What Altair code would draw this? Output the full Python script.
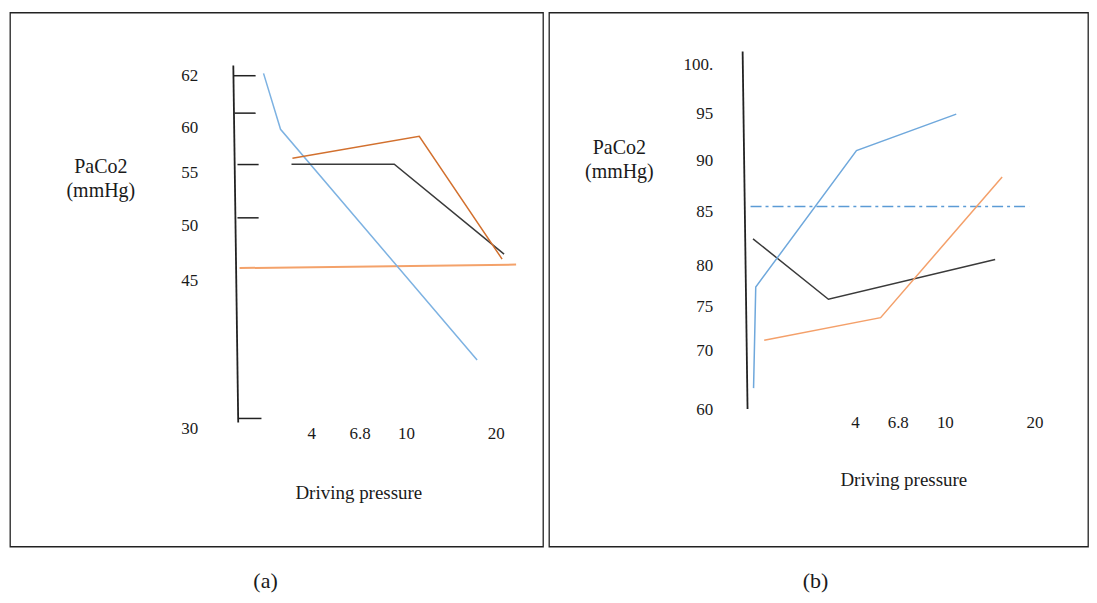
import altair as alt
import pandas as pd

FONT = "Liberation Serif"
INK = "#1a1a1a"

# ---------------- Panel (a) ----------------
a_x_ticks = [4, 6.8, 10, 20]
a_y_ticks = [62, 60, 55, 50, 45, 30]

a_blue_x = [1.48, 2.38, 17.92]
a_blue_y = [62.09, 59.78, 36.94]
a_orange_x = [3.01, 11.48, 20.7]
a_orange_y = [56.61, 59.02, 46.91]
a_black_x = [2.96, 9.19, 20.92]
a_black_y = [55.95, 55.95, 47.36]
a_lorange_x = [0.21, 22.26]
a_lorange_y = [46.09, 46.41]
a_axis_x = [-0.12, 0.14]
a_axis_y = [62.4, 30.63]
a_tick_y = [62.0, 60.55, 55.92, 50.70, 31.04]
a_tick_x0 = [-0.10, -0.05, 0.10, 0.10, 0.16]
a_tick_x1 = [1.06, 1.06, 1.22, 1.22, 1.37]

# ---------------- Panel (b) ----------------
b_x_ticks = [4, 6.8, 10, 20]
b_y_ticks = [100, 95, 90, 85, 80, 75, 70, 60]

b_blue_x = [0.29, 0.37, 4.10, 11.27]
b_blue_y = [63.65, 77.35, 91.03, 94.89]
b_black_x = [0.27, 3.03, 15.61]
b_black_y = [82.46, 75.87, 80.53]
b_orange_x = [0.68, 5.68, 16.39]
b_orange_y = [71.16, 73.73, 88.38]
b_ref_x = [0.18, 19.4]
b_ref_y = [85.5, 85.5]
b_axis_x = [-0.11, 0.07]
b_axis_y = [101.37, 60.12]


def df_line(xs, ys):
    return pd.DataFrame({"x": xs, "y": ys, "order": list(range(len(xs)))})


def build_panel(W, H, xscale, yscale, xaxis, yaxis, lines, axis_xy, ticks, caption, cap_dx):
    def X(field="x"):
        return alt.X(f"{field}:Q", scale=xscale, axis=xaxis)

    def Y(field="y"):
        return alt.Y(f"{field}:Q", scale=yscale, axis=yaxis)

    layers = []
    ax = df_line(*axis_xy)
    layers.append(
        alt.Chart(ax).mark_line(color="#222222", strokeWidth=1.8).encode(
            x=X(), y=Y(), order="order:Q"
        )
    )
    if ticks is not None:
        tdf = pd.DataFrame({"x0": ticks[0], "x1": ticks[1], "y": ticks[2]})
        layers.append(
            alt.Chart(tdf).mark_rule(color="#222222", strokeWidth=1.5).encode(
                x=X("x0"), x2=alt.X2("x1"), y=Y()
            )
        )
    for xs, ys, color, width, dash in lines:
        kw = dict(color=color, strokeWidth=width)
        if dash:
            kw["strokeDash"] = dash
        layers.append(
            alt.Chart(df_line(xs, ys)).mark_line(**kw).encode(
                x=X(), y=Y(), order="order:Q"
            )
        )
    return alt.layer(*layers).properties(
        width=W,
        height=H,
        title=alt.TitleParams(
            caption, orient="bottom", anchor="middle", offset=25, dx=cap_dx,
            font=FONT, fontSize=22, fontWeight="normal", baseline="top", color=INK,
        ),
    )


def y_axis(values, expr, pos, tx, ty):
    return alt.Axis(
        values=values, labelExpr=expr, labelFont=FONT, labelFontSize=17,
        labelColor=INK, labelAlign="right", labelBaseline="middle",
        labelPadding=0, ticks=False, tickSize=0, domain=False, grid=False,
        labelFlush=False, labelOverlap=False, labelBound=False,
        offset=-pos, title=["PaCo2", "(mmHg)"], titleFont=FONT,
        titleFontSize=20, titleFontWeight="normal", titleColor=INK,
        titleAngle=0, titleAlign="center", titleBaseline="top",
        titleX=tx, titleY=ty, titleLineHeight=24,
    )


def x_axis(values, offset, tx, ty):
    return alt.Axis(
        values=values, labelExpr="'' + datum.value", labelFont=FONT,
        labelFontSize=17, labelColor=INK, labelAlign="center",
        labelBaseline="middle", labelPadding=10, ticks=False, tickSize=0,
        domain=False, grid=False, labelFlush=False, labelOverlap=False,
        labelBound=False, offset=offset, title="Driving pressure",
        titleFont=FONT, titleFontSize=19, titleFontWeight="normal",
        titleColor=INK, titleAngle=0, titleAlign="center",
        titleBaseline="middle", titleX=tx, titleY=ty,
    )


H = 535

# Panel (a) scales (piecewise, as the hand-drawn axes are not linear)
WA = 534
xs_a = alt.Scale(domain=[0, 4, 6.8, 10, 20], range=[226, 301.7, 350.3, 396.7, 486.7], nice=False, zero=False)
ys_a = alt.Scale(domain=[30, 45, 50, 55, 60, 62], range=[417, 268, 213, 160.7, 115, 63.3], nice=False, zero=False)
panel_a = build_panel(
    WA, H, xs_a, ys_a,
    x_axis(a_x_ticks, 412 - H, 349, 69),
    y_axis(a_y_ticks, "'' + datum.value", 188, -97.5, 144),
    [
        (a_lorange_x, a_lorange_y, "#F4A26A", 2.0, None),
        (a_blue_x, a_blue_y, "#7DB2E2", 1.5, None),
        (a_black_x, a_black_y, "#3a3a3a", 1.5, None),
        (a_orange_x, a_orange_y, "#D2702E", 1.5, None),
    ],
    (a_axis_x, a_axis_y),
    (a_tick_x0, a_tick_x1, a_tick_y),
    "(a)", -11,
)

# Panel (b)
WB = 540
xs_b = alt.Scale(domain=[0, 4, 6.8, 10, 20], range=[197, 306.5, 349.4, 396.6, 486.4], nice=False, zero=False)
ys_b = alt.Scale(domain=[60, 70, 75, 80, 85, 90, 95, 100], range=[398, 338.5, 294.5, 253, 199.5, 148, 100.7, 52.3], nice=False, zero=False)
panel_b = build_panel(
    WB, H, xs_b, ys_b,
    x_axis(b_x_ticks, 400.5 - H, 355, 67.5),
    y_axis(b_y_ticks, "datum.value == 100 ? '100.' : '' + datum.value", 164, -94, 125),
    [
        (b_ref_x, b_ref_y, "#5B9BD5", 1.5, [11, 4, 3, 4]),
        (b_black_x, b_black_y, "#3a3a3a", 1.5, None),
        (b_orange_x, b_orange_y, "#F4A06A", 1.5, None),
        (b_blue_x, b_blue_y, "#6FA8DC", 1.5, None),
    ],
    (b_axis_x, b_axis_y),
    None,
    "(b)", -3,
)

chart = (
    alt.hconcat(panel_a, panel_b, spacing=4)
    .properties(padding={"left": 1, "top": 3, "right": 0, "bottom": 0}, background="white")
    .configure_view(stroke="#222222", strokeWidth=1.3)
)

chart.save("out.html", embed_options={"renderer": "svg", "actions": False})
